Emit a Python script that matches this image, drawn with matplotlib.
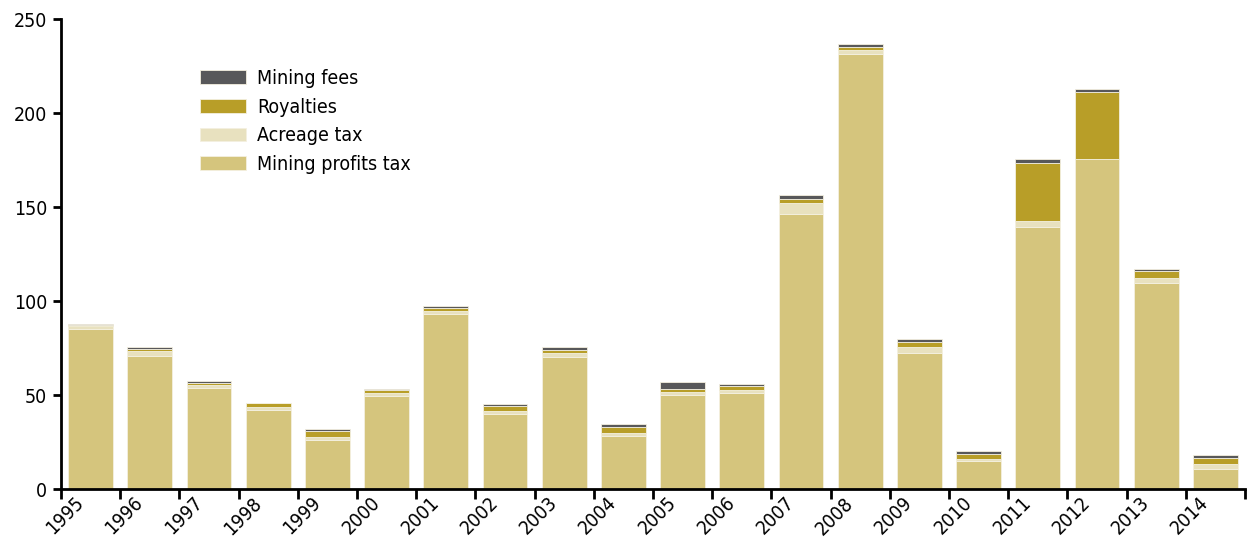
import numpy as np
import matplotlib
matplotlib.use("Agg")
import matplotlib.pyplot as plt
import matplotlib.transforms as mtransforms

plt.rcParams['font.family'] = ['DejaVu Sans']
plt.rcParams['font.stretch'] = 'condensed'

years = [str(y) for y in range(1995, 2015)]

profits_tax = [85.0, 70.9, 53.7, 42.2, 26.1, 49.5, 93.1, 39.9, 70.2, 28.2,
               50.2, 51.1, 146.3, 231.4, 72.3, 14.9, 139.4, 175.5, 109.6, 10.6]
acreage_tax = [1.5, 2.3, 1.6, 1.2, 1.6, 1.6, 1.6, 1.6, 2.3, 1.6,
               1.6, 1.6, 5.9, 2.0, 3.0, 1.1, 3.2, 0.0, 2.5, 2.7]
royalties = [0.8, 1.2, 1.2, 2.1, 3.4, 1.6, 1.4, 2.8, 1.4, 3.4,
             1.4, 2.0, 2.1, 1.6, 2.7, 2.7, 30.9, 35.9, 3.9, 3.4]
mining_fees = [0.5, 0.9, 0.9, 0.5, 0.9, 0.5, 1.4, 0.9, 1.4, 1.4,
               3.5, 1.2, 2.1, 1.6, 1.6, 1.4, 2.1, 1.4, 1.1, 1.4]

series = [
    ("Mining profits tax", profits_tax, "#d5c57d"),
    ("Acreage tax", acreage_tax, "#e8e1bf"),
    ("Royalties", royalties, "#b89e28"),
    ("Mining fees", mining_fees, "#58585a"),
]

fig = plt.figure(figsize=(12.5, 5.4), dpi=100)
ax = fig.add_axes([0.0488, 0.0944, 0.9472, 0.8704])

x = np.arange(len(years))
bottom = np.zeros(len(years))
handles = {}
for name, vals, col in series:
    vals = np.array(vals)
    b = ax.bar(x, vals, width=0.76, bottom=bottom, color=col,
               edgecolor="#f4f0e0", linewidth=0.6, label=name)
    handles[name] = b
    bottom += vals

# legend in reverse stacking order
order = ["Mining fees", "Royalties", "Acreage tax", "Mining profits tax"]
leg = ax.legend([handles[n] for n in order], order, loc="upper left",
                bbox_to_anchor=(0.117, 0.894), frameon=False, fontsize=14,
                handlelength=2.4, handleheight=0.7, labelspacing=0.5,
                handletextpad=0.55, borderpad=0, borderaxespad=0)

ax.set_xlim(-0.5, len(years) - 0.5)
ax.set_ylim(0, 250)
ax.set_yticks([0, 50, 100, 150, 200, 250])

# ticks at category boundaries, labels at centres
ax.set_xticks(np.arange(-0.5, len(years) + 0.5, 1))
ax.set_xticklabels([])
ax.set_xticks(x, minor=True)
ax.set_xticklabels(years, minor=True, rotation=45, ha="right", va="center",
                   rotation_mode="anchor", fontsize=14)
ax.tick_params(axis="x", which="minor", length=0, pad=8)
ax.tick_params(axis="x", which="major", length=7, width=2)
ax.tick_params(axis="y", length=6, width=2, labelsize=14, pad=4)

# nudge the rotated year labels a little to the left
shift = mtransforms.ScaledTranslation(-7 / 72, 0, fig.dpi_scale_trans)
for lab in ax.get_xticklabels(minor=True):
    lab.set_transform(lab.get_transform() + shift)

for side in ["top", "right"]:
    ax.spines[side].set_visible(False)
for side in ["left", "bottom"]:
    ax.spines[side].set_linewidth(2)

fig.savefig("out.png", dpi=100)
